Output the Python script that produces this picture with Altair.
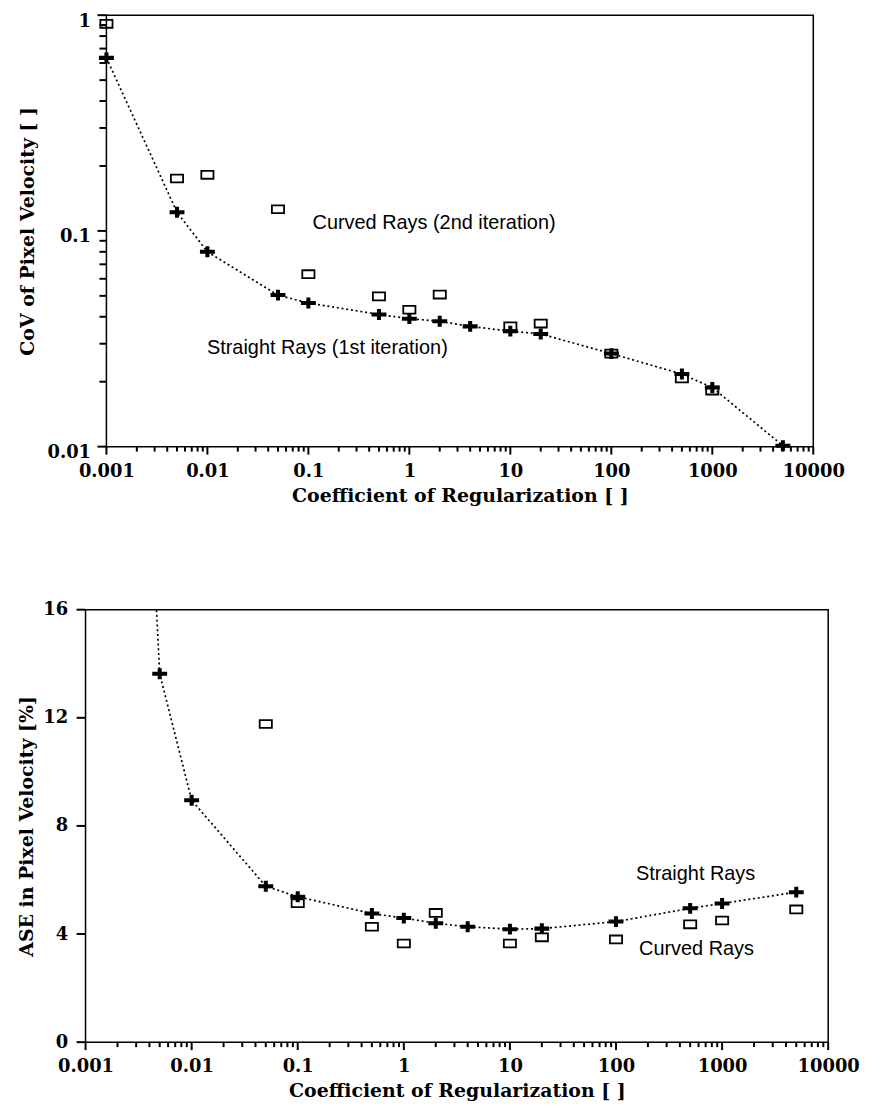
import altair as alt
import pandas as pd

# ---------------- data ----------------
coef_straight = [0.001, 0.005, 0.01, 0.05, 0.1, 0.5, 1, 2, 4, 10, 20, 100, 500, 1000, 5000]
cov_straight = [0.634, 0.122, 0.080, 0.0504, 0.0463, 0.0410, 0.0392, 0.0381, 0.0361,
                0.0343, 0.0333, 0.0270, 0.0217, 0.0188, 0.0101]

coef_curved_cov = [0.001, 0.005, 0.01, 0.05, 0.1, 0.5, 1, 2, 10, 20, 100, 500, 1000]
cov_curved = [0.912, 0.175, 0.182, 0.126, 0.063, 0.0497, 0.0431, 0.0507, 0.0361,
              0.0372, 0.0270, 0.0207, 0.0182]

coef_straight_ase = [0.001, 0.005, 0.01, 0.05, 0.1, 0.5, 1, 2, 4, 10, 20, 100, 500, 1000, 5000]
ase_straight = [68.0, 13.63, 8.95, 5.77, 5.38, 4.76, 4.59, 4.40, 4.27, 4.18, 4.20,
                4.46, 4.95, 5.13, 5.55]

coef_curved_ase = [0.05, 0.1, 0.5, 1, 2, 10, 20, 100, 500, 1000, 5000]
ase_curved = [11.77, 5.14, 4.27, 3.65, 4.78, 3.65, 3.88, 3.80, 4.36, 4.50, 4.91]

x_major = [0.001, 0.01, 0.1, 1, 10, 100, 1000, 10000]
x_major_labels = ["0.001", "0.01", "0.1", "1", "10", "100", "1000", "10000"]
cov_major = [0.01, 0.1, 1]
cov_major_labels = ["0.01", "0.1", "1"]
ase_ticks = [0, 4, 8, 12, 16]
ase_max = 16

top_notes = ["Curved Rays (2nd iteration)", "Straight Rays (1st iteration)"]
top_note_x = [0.11, 0.0099]
top_note_y = [0.109, 0.0288]
bottom_notes = ["Straight Rays", "Curved Rays"]
bottom_note_x = [154, 165]
bottom_note_y = [6.22, 3.44]

# ---------------- helpers ----------------
SERIF = "DejaVu Serif"
SANS = "Liberation Sans"


def minor_ticks(majors):
    return [m * v for v in majors[:-1] for m in range(2, 10)]


def label_expr(values, labels):
    expr = "''"
    for v, l in reversed(list(zip(values, labels))):
        expr = f"datum.value == {v!r} ? '{l}' : ({expr})"
    return expr


def axis(title, values, labels=None, majors=None, lp=16, tp=8, title_size=19, loff=0):
    kw = dict(
        title=title, values=values, grid=False, ticks=False, domain=False,
        labelFont=SERIF, labelFontWeight="bold", labelFontSize=18, labelColor="black",
        titleFont=SERIF, titleFontWeight="bold", titleFontSize=title_size, titleColor="black",
        labelOffset=loff, labelPadding=lp, titlePadding=tp,
        labelFlush=False, labelOverlap=False,
    )
    if labels is not None:
        kw["labelExpr"] = label_expr(majors, labels)
    return alt.Axis(**kw)


PLUS = "M-1,-0.27H-0.27V-0.73H0.27V-0.27H1V0.27H0.27V0.73H-0.27V0.27H-1Z"
RECT = "M-1,-0.65H1V0.65H-1Z"


def xticks(vals, xenc, height, length):
    # short vertical tick marks hanging below the x axis
    return alt.Chart(pd.DataFrame({"x": vals})).mark_tick(
        orient="vertical", color="black", opacity=1, thickness=2, size=length
    ).encode(x=xenc, y=alt.value(height + length / 2))


def yticks(vals, yenc, length):
    # short horizontal tick marks to the left of the y axis
    return alt.Chart(pd.DataFrame({"y": vals})).mark_tick(
        orient="horizontal", color="black", opacity=1, thickness=2, size=length
    ).encode(y=yenc, x=alt.value(-length / 2))


def panel(straight_df, curved_df, notes_df, xenc, yenc, width, height, tick_layers,
          clip_line=False, ymax=None):
    line = alt.Chart(straight_df).mark_line(
        color="black", strokeDash=[2, 2.8], strokeWidth=1.7, clip=clip_line
    ).encode(x=xenc, y=yenc)
    plus = alt.Chart(straight_df).mark_point(
        shape=PLUS, filled=True, color="black", opacity=1, size=225
    ).encode(x=xenc, y=yenc)
    if ymax is not None:
        plus = plus.transform_filter(alt.datum.y <= ymax)
    rect = alt.Chart(curved_df).mark_point(
        shape=RECT, filled=False, color="black", strokeWidth=1.8, opacity=1, size=150
    ).encode(x=xenc, y=yenc)
    text = alt.Chart(notes_df).mark_text(
        align="left", baseline="middle", font=SANS, fontSize=20, color="black"
    ).encode(x=xenc, y=yenc, text="t:N")
    return alt.layer(line, rect, plus, text, *tick_layers).properties(
        width=width, height=height
    )


def spacer():
    return alt.Chart(pd.DataFrame({"a": [0]})).mark_point(opacity=0, size=0).properties(
        width=1, height=1, view=alt.ViewBackground(strokeOpacity=0)
    )


x_all = x_major + minor_ticks(x_major)
cov_all = cov_major + minor_ticks(cov_major)

TOP_W, TOP_H = 711, 434
BOT_W, BOT_H = 747, 435

# ---------------- top panel ----------------
top_x = alt.X("x:Q", scale=alt.Scale(type="log", domain=[0.001, 10000], nice=False),
              axis=axis("Coefficient of Regularization [ ]", x_all, x_major_labels, x_major,
                        lp=16, tp=6))
top_y = alt.Y("y:Q", scale=alt.Scale(type="log", domain=[0.01, 1], nice=False),
              axis=axis("CoV of Pixel Velocity [ ]", cov_all, cov_major_labels, cov_major,
                        lp=16, tp=10, loff=6))

top = panel(
    pd.DataFrame({"x": coef_straight, "y": cov_straight}),
    pd.DataFrame({"x": coef_curved_cov, "y": cov_curved}),
    pd.DataFrame({"x": top_note_x, "y": top_note_y, "t": top_notes}),
    top_x, top_y, TOP_W, TOP_H,
    [xticks(x_major, top_x, TOP_H, 8), xticks(minor_ticks(x_major), top_x, TOP_H, 5),
     yticks(cov_major, top_y, 9), yticks(minor_ticks(cov_major), top_y, 7)],
)

# ---------------- bottom panel ----------------
bot_x = alt.X("x:Q", scale=alt.Scale(type="log", domain=[0.001, 10000], nice=False),
              axis=axis("Coefficient of Regularization [ ]", x_all, x_major_labels, x_major,
                        lp=16, tp=6))
bot_y = alt.Y("y:Q", scale=alt.Scale(domain=[0, ase_max], nice=False),
              axis=axis("ASE in Pixel Velocity [%]", ase_ticks, lp=18, tp=6))

bottom = panel(
    pd.DataFrame({"x": coef_straight_ase, "y": ase_straight}),
    pd.DataFrame({"x": coef_curved_ase, "y": ase_curved}),
    pd.DataFrame({"x": bottom_note_x, "y": bottom_note_y, "t": bottom_notes}),
    bot_x, bot_y, BOT_W, BOT_H,
    [xticks(x_major, bot_x, BOT_H, 8), xticks(minor_ticks(x_major), bot_x, BOT_H, 5),
     yticks(ase_ticks, bot_y, 9)],
    clip_line=True, ymax=ase_max,
)

row_top = alt.hconcat(spacer(), top, spacing=0)
row_bot = alt.hconcat(spacer(), bottom, spacing=0)

chart = alt.vconcat(row_top, row_bot, spacing=94).properties(
    padding={"left": 8, "top": 0, "right": 0, "bottom": 0},
    background="white",
).configure_view(stroke="black", strokeWidth=1.5)

chart.save("out.html", embed_options={"renderer": "svg", "actions": False})
